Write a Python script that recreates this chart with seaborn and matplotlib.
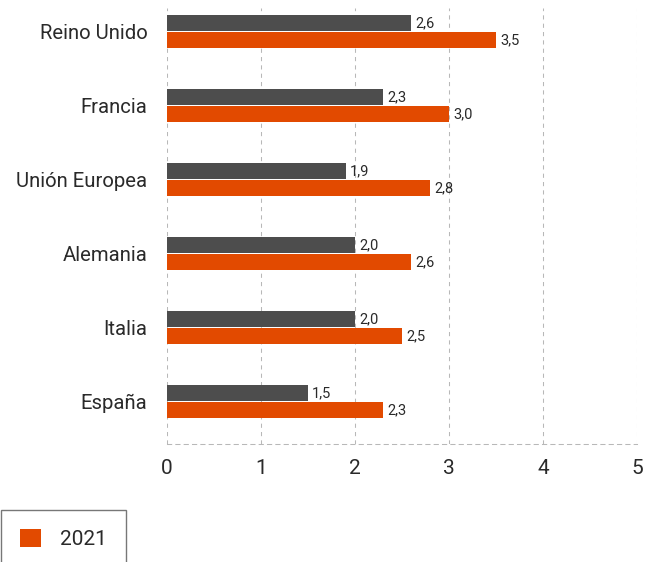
import matplotlib
matplotlib.use("Agg")
from matplotlib import pyplot as plt
from matplotlib.patches import Patch
import pandas as pd
import seaborn as sns

# data
paises = ["Reino Unido", "Francia", "Unión Europea", "Alemania", "Italia", "España"]
valores_previo = [2.6, 2.3, 1.9, 2.0, 2.0, 1.5]
valores_2021 = [3.5, 3.0, 2.8, 2.6, 2.5, 2.3]
serie_previo = "anterior"
serie_2021 = "2021"
ticks_x = [0, 1, 2, 3, 4, 5]

GRIS = "#4d4d4d"
NARANJA = "#e24a00"
TEXTO = "#2a2a2a"
REJILLA = "#b8b8b8"

df = pd.DataFrame({
    "pais": paises * 2,
    "valor": valores_previo + valores_2021,
    "serie": [serie_previo] * len(paises) + [serie_2021] * len(paises),
})

sns.set_style("white")
plt.rcParams["font.family"] = ["Roboto", "DejaVu Sans"]

fig = plt.figure(figsize=(6.51, 5.62), dpi=100)
W, H = 651, 562
ax = fig.add_axes([167 / W, 1 - 444 / H, (637 - 167) / W, (444 - 8) / H])

sns.barplot(
    data=df, y="pais", x="valor", hue="serie", orient="h",
    palette={serie_previo: GRIS, serie_2021: NARANJA},
    width=0.46, gap=0.08, legend=False, ax=ax, saturation=1, linewidth=0,
)

for cont in ax.containers:
    etiquetas = [f"{b.get_width():.1f}".replace(".", ",") for b in cont]
    ax.bar_label(cont, labels=etiquetas, padding=3, fontsize=10.5, color=TEXTO)

ax.set_xlim(0, 5)
ax.set_ylim(5.57, -0.32)
ax.set_xticks(ticks_x)
ax.set_xlabel("")
ax.set_ylabel("")

ax.grid(axis="x", color=REJILLA, linestyle=(0, (4, 4)), linewidth=0.75)
ax.grid(axis="y", visible=False)
ax.set_axisbelow(True)
for lado in ["top", "right", "left"]:
    ax.spines[lado].set_visible(False)
ax.spines["bottom"].set_color(REJILLA)
ax.spines["bottom"].set_linestyle((0, (4, 4)))
ax.spines["bottom"].set_linewidth(0.75)

ax.tick_params(axis="x", length=0, pad=11, labelsize=15, labelcolor=TEXTO)
ax.tick_params(axis="y", length=0, pad=14, labelsize=14.6, labelcolor=TEXTO)

fig.legend(
    handles=[Patch(facecolor=NARANJA, edgecolor="none", label=serie_2021)],
    loc="upper right", bbox_to_anchor=(126 / W, 1 - 510 / H),
    fontsize=15, frameon=True, fancybox=False, framealpha=1,
    edgecolor="#777777", handlelength=1.0, handleheight=1.0,
    handletextpad=0.95, borderpad=0.9, borderaxespad=0,
    labelcolor=TEXTO,
)

fig.savefig("out.png", dpi=100, facecolor="white")
